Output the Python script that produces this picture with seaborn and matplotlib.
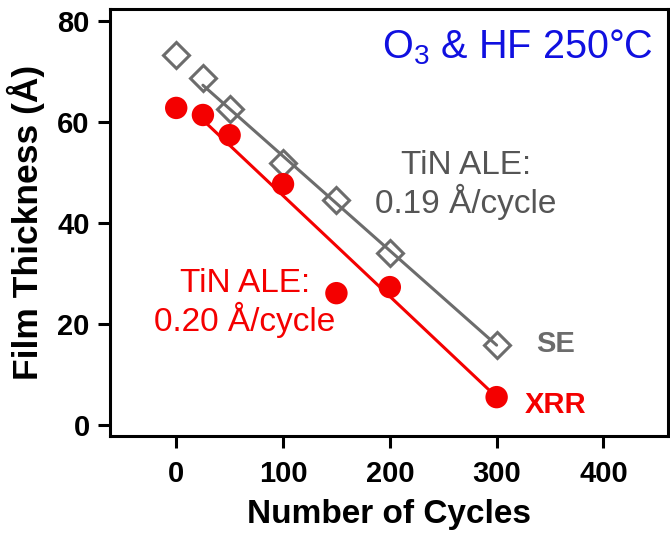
import matplotlib
matplotlib.use("Agg")
import matplotlib.pyplot as plt
import seaborn as sns
import pandas as pd

# Data
cycles = [0, 25, 50, 100, 150, 200, 300]
se_thickness = [73.3, 68.7, 62.6, 51.9, 44.6, 34.1, 15.8]
xrr_thickness = [62.8, 61.4, 57.4, 47.7, 26.1, 27.3, 5.5]

se_fit_x = [25, 300]
se_fit_y = [67.3, 15.8]
xrr_fit_x = [25, 300]
xrr_fit_y = [60.4, 5.5]

x_ticks = [0, 100, 200, 300, 400]
y_ticks = [0, 20, 40, 60, 80]

sns.set_theme(style="ticks")
plt.rcParams['font.family'] = ['Liberation Sans', 'DejaVu Sans']
plt.rcParams['mathtext.fontset'] = 'custom'
plt.rcParams['mathtext.rm'] = 'Liberation Sans'
plt.rcParams['mathtext.it'] = 'Liberation Sans'

GRAY = '#6c6c6c'
RED = '#f40000'
BLUE = '#1010e0'

df = pd.DataFrame({"cycles": cycles, "SE": se_thickness, "XRR": xrr_thickness})
df_se_fit = pd.DataFrame({"x": se_fit_x, "y": se_fit_y})
df_xrr_fit = pd.DataFrame({"x": xrr_fit_x, "y": xrr_fit_y})

fig = plt.figure(figsize=(6.7, 5.33), dpi=100)
ax = fig.add_axes([110/670, 1 - 436/533, (667.5 - 110)/670, (436 - 9)/533])

sns.lineplot(data=df_se_fit, x="x", y="y", ax=ax, color=GRAY, linewidth=2.2, zorder=2)
sns.lineplot(data=df_xrr_fit, x="x", y="y", ax=ax, color=RED, linewidth=2.2, zorder=2)

ax.plot(df["cycles"], df["SE"], linestyle='none', marker='D', markersize=13,
        markerfacecolor='none', markeredgecolor=GRAY, markeredgewidth=2.2, zorder=3)
sns.scatterplot(data=df, x="cycles", y="XRR", ax=ax, color=RED, s=260,
                edgecolor='none', zorder=4)

ax.set_xlim(-62, 460)
ax.set_ylim(-2.2, 82.4)
ax.set_xticks(x_ticks)
ax.set_yticks(y_ticks)

for sp in ax.spines.values():
    sp.set_visible(True)
    sp.set_linewidth(2.2)
    sp.set_color('black')

ax.tick_params(axis='both', direction='out', length=8.5, width=2.2, color='black',
               labelsize=21, labelcolor='black')
ax.tick_params(axis='x', pad=9)
ax.tick_params(axis='y', pad=6)
for lab in ax.get_xticklabels() + ax.get_yticklabels():
    lab.set_fontweight('bold')

ax.set_xlabel("Number of Cycles", fontsize=24, fontweight='bold', labelpad=8, color='black')
ax.set_ylabel("Film Thickness (Å)", fontsize=25.5, fontweight='bold', labelpad=9, color='black')

ax.text(0.975, 0.958, "O$_3$ & HF 250°C", transform=ax.transAxes, ha='right', va='top',
        fontsize=28.5, color=BLUE)
ax.text(271, 47.5, "TiN ALE:\n0.19 Å/cycle", ha='center', va='center',
        fontsize=24, color='#555555', linespacing=1.1)
ax.text(64, 24.2, "TiN ALE:\n0.20 Å/cycle", ha='center', va='center',
        fontsize=24, color=RED, linespacing=1.1)
ax.text(337.5, 16.0, "SE", ha='left', va='center', fontsize=21, fontweight='bold', color=GRAY)
ax.text(326.5, 3.9, "XRR", ha='left', va='center', fontsize=21, fontweight='bold', color=RED)

fig.savefig("out.png", dpi=100)
